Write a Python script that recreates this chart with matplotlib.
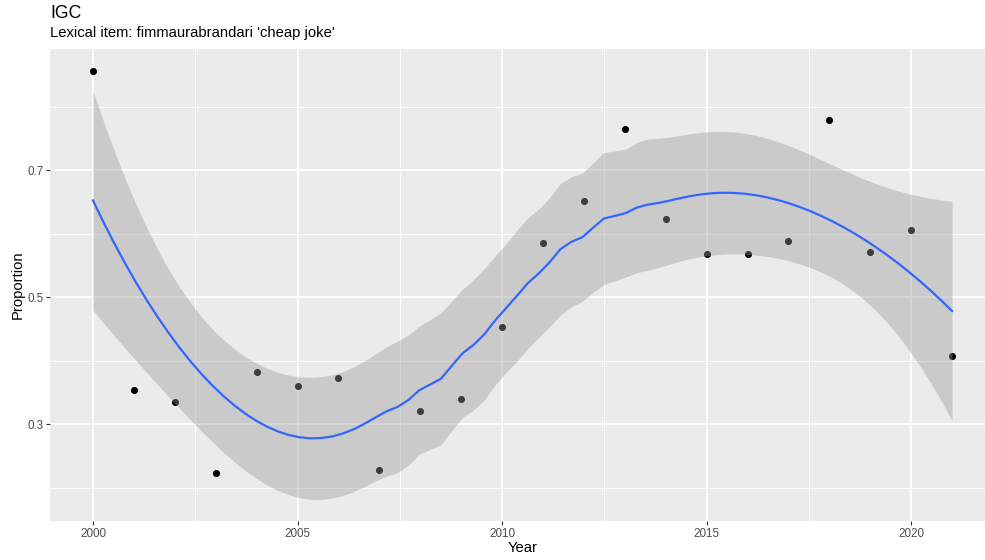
import numpy as np
import matplotlib.pyplot as plt
from matplotlib.ticker import MultipleLocator

# data
years = np.arange(2000, 2022)
proportion = [0.857, 0.354, 0.335, 0.224, 0.383, 0.361, 0.373, 0.229, 0.321, 0.340, 0.453,
              0.585, 0.652, 0.765, 0.623, 0.569, 0.568, 0.589, 0.779, 0.571, 0.606, 0.408]
x_ticks = [2000, 2005, 2010, 2015, 2020]
y_ticks = [0.3, 0.5, 0.7]

title = "IGC"
subtitle = "Lexical item: fimmaurabrandari 'cheap joke'"


def loess_matrix(x, xs, span=0.75):
    # local quadratic fit with tricube weights (R loess defaults)
    n = len(x)
    q = int(np.floor(n * span))
    L = np.zeros((len(xs), n))
    for i, x0 in enumerate(xs):
        d = np.abs(x - x0)
        h = np.sort(d)[q - 1]
        w = np.clip(1 - (d / h) ** 3, 0, None) ** 3
        X = np.column_stack([np.ones(n), x - x0, (x - x0) ** 2])
        XtW = X.T * w
        L[i] = (np.linalg.pinv(XtW @ X) @ XtW)[0]
    return L


def t_quantile(p, df):
    grid = np.linspace(0, 40, 400001)
    pdf = (1 + grid ** 2 / df) ** (-(df + 1) / 2)
    cdf = np.concatenate([[0], np.cumsum((pdf[1:] + pdf[:-1]) / 2 * np.diff(grid))])
    cdf = 0.5 + 0.5 * cdf / cdf[-1]
    return np.interp(p, cdf, grid)


x = years.astype(float)
y = np.array(proportion)
xs = np.linspace(x.min(), x.max(), 80)

# smoother + 95% band, as geom_smooth does
L_data = loess_matrix(x, x)
L_grid = loess_matrix(x, xs)
M = np.eye(len(x)) - L_data
MtM = M.T @ M
delta1 = np.trace(MtM)
delta2 = np.trace(MtM @ MtM)
resid = M @ y
s = np.sqrt(np.sum(resid ** 2) / delta1)
fit = L_grid @ y
se = s * np.sqrt(np.sum(L_grid ** 2, axis=1))
tq = t_quantile(0.975, delta1 ** 2 / delta2)
lower = fit - tq * se
upper = fit + tq * se

plt.rcParams['font.family'] = ['Liberation Sans', 'DejaVu Sans']

fig = plt.figure(figsize=(9.85, 5.6), dpi=100)
ax = fig.add_axes([50 / 985, 39 / 560, 945 / 985, 472 / 560])
ax.set_facecolor('#EBEBEB')
for sp in ax.spines.values():
    sp.set_visible(False)

ax.scatter(x, y, s=26, color='black', zorder=3, linewidths=0)
ax.fill_between(xs, lower, upper, color='#999999', alpha=0.4, linewidth=0, zorder=4)
ax.plot(xs, fit, color='#3366FF', linewidth=1.6, zorder=5)

ax.set_xlim(1998.95, 2022.05)
ax.set_ylim(0.148, 0.891)
ax.set_xticks(x_ticks)
ax.set_yticks(y_ticks)
ax.set_yticklabels([f"{v:.1f}" for v in y_ticks])
ax.xaxis.set_minor_locator(MultipleLocator(2.5))
ax.yaxis.set_minor_locator(MultipleLocator(0.1))
ax.grid(which='major', color='white', linewidth=1.3, zorder=0)
ax.grid(which='minor', color='white', linewidth=0.65, zorder=0)
ax.set_axisbelow(True)
ax.tick_params(which='major', length=2.6, width=0.8, color='#333333',
               labelsize=8.4, labelcolor='#4D4D4D', pad=2.2)
ax.tick_params(which='minor', length=0)

ax.set_xlabel('Year', fontsize=10.6, labelpad=1)
ax.set_ylabel('Proportion', fontsize=10.6, labelpad=2)

fig.text(50 / 985, 1 - 18 / 560, title, fontsize=12.7, va='baseline', ha='left')
fig.text(50 / 985, 1 - 37.5 / 560, subtitle, fontsize=10.6, va='baseline', ha='left')

fig.savefig('out.png', dpi=100)
